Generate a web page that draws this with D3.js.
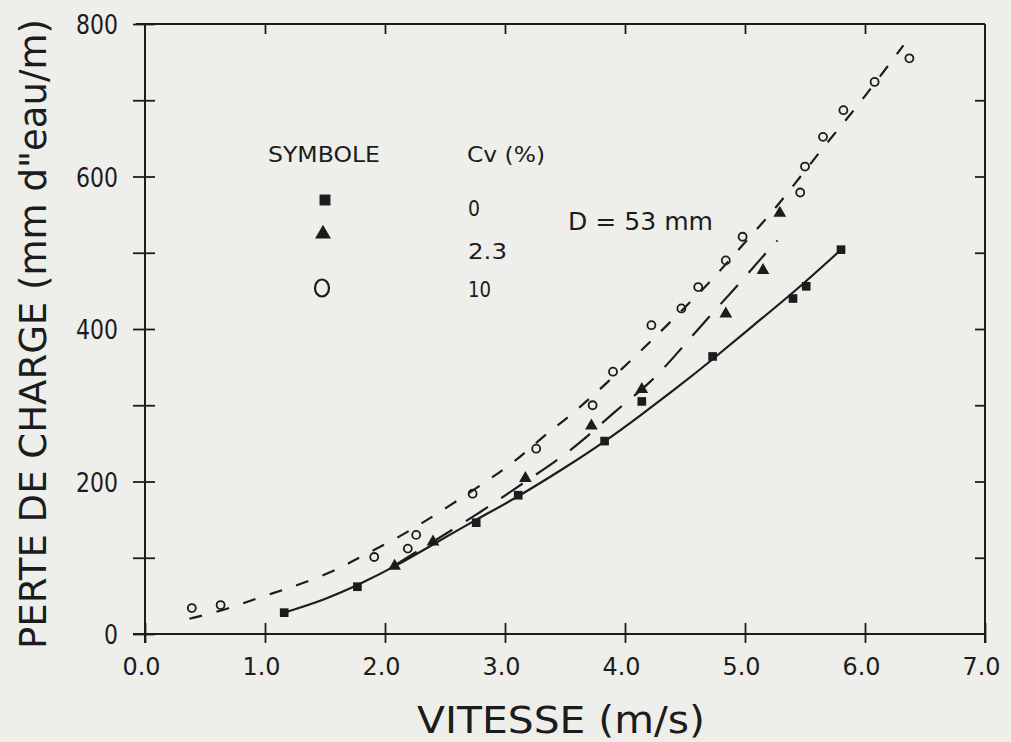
<!DOCTYPE html>
<html><head><meta charset="utf-8">
<script src="https://cdn.jsdelivr.net/npm/d3@7"></script>
<style>html,body{margin:0;padding:0;background:#eeeeeb;} svg{display:block;}</style>
</head><body><svg id="c" width="1011" height="742"></svg>
<script>
// ---- data ----
const xTickValues = [0, 1, 2, 3, 4, 5, 6, 7];
const xTickLabels = ["0.0", "1.0", "2.0", "3.0", "4.0", "5.0", "6.0", "7.0"];
const yTickValues = [0, 100, 200, 300, 400, 500, 600, 700, 800];
const yTickLabels = ["0", "", "200", "", "400", "", "600", "", "800"];

// measured points, Cv = 0 % (squares)
const cv0X = [1.16, 1.77, 2.76, 3.11, 3.83, 4.14, 4.73, 5.40, 5.51, 5.80];
const cv0Y = [28, 62, 146, 182, 253, 305, 364, 440, 456, 504];
// Cv = 2.3 % (triangles)
const cv23X = [2.08, 2.40, 3.17, 3.72, 4.14, 4.84, 5.15, 5.29];
const cv23Y = [89, 121, 204, 273, 321, 420, 477, 552];
// Cv = 10 % (open circles)
const cv10X = [0.39, 0.63, 1.91, 2.19, 2.26, 2.73, 3.26, 3.73, 3.90, 4.22, 4.47, 4.61, 4.84, 4.98, 5.46, 5.50, 5.65, 5.82, 6.08, 6.37];
const cv10Y = [34, 38, 101, 112, 130, 184, 243, 300, 344, 405, 427, 455, 490, 521, 579, 613, 652, 687, 724, 755];

// fitted curves
const curve0X = [1.16, 1.5, 1.8, 2.1, 2.45, 2.76, 3.11, 3.5, 3.83, 4.14, 4.45, 4.73, 5.07, 5.4, 5.8];
const curve0Y = [28, 45, 66, 90, 122, 150, 180, 218, 252, 288, 325, 360, 405, 447, 504];
const curve23X = [2.08, 2.4, 2.8, 3.18, 3.4, 3.64, 3.92, 4.22, 4.45, 4.7, 4.95, 5.18, 5.27];
const curve23Y = [90, 121, 160, 201, 224, 252, 293, 330, 371, 416, 459, 501, 516];
const curve10X = [0.37, 0.7, 0.93, 1.16, 1.39, 1.64, 1.81, 2.08, 2.53, 2.95, 3.15, 3.36, 3.55, 4.11, 4.51, 4.73, 4.95, 5.18, 5.35, 5.66, 5.82, 6.0, 6.32];
const curve10Y = [20, 33, 47, 58, 71, 87, 103, 123, 167, 211, 235, 265, 286, 367, 430, 465, 505, 545, 577, 640, 670, 705, 772];

const legendTitles = ["SYMBOLE", "Cv (%)"];
const legendLabels = ["0", "2.3", "10"];
const annotation = "D = 53 mm";
const xTitle = "VITESSE (m/s)";
const yTitle = "PERTE DE CHARGE (mm d\"eau/m)";

// ---- drawing ----
const ink = "#1c1c1c";
const font = "DejaVu Sans";
const svg = d3.select("#c");
const x = d3.scaleLinear().domain([0, 7]).range([145, 985]);
const y = d3.scaleLinear().domain([0, 800]).range([634, 24]);

function txt(g, s, px, py, size, len, anchor) {
  const t = g.append("text").attr("x", px).attr("y", py).text(s)
    .attr("font-family", font).attr("font-size", size).attr("fill", ink)
    .attr("text-anchor", anchor || "start");
  if (len) t.attr("textLength", len).attr("lengthAdjust", "spacingAndGlyphs");
  return t;
}

// frame
const frame = svg.append("g").attr("stroke", ink).attr("stroke-width", 2).attr("fill", "none");
frame.append("line").attr("x1", 136).attr("x2", x(7)).attr("y1", y(800)).attr("y2", y(800));
frame.append("line").attr("x1", x(0)).attr("x2", x(0)).attr("y1", y(800)).attr("y2", 643);
frame.append("line").attr("x1", 133).attr("x2", x(7)).attr("y1", y(0)).attr("y2", y(0));
frame.append("line").attr("x1", x(7)).attr("x2", x(7)).attr("y1", y(800)).attr("y2", 643);

// left axis (ticks crossing)
const gl = svg.append("g").attr("transform", `translate(${x(0)},0)`)
  .call(d3.axisLeft(y).tickValues(yTickValues).tickFormat((d, i) => yTickLabels[i]).tickSize(12));
gl.select(".domain").remove();
gl.selectAll(".tick line").attr("x1", 10).attr("x2", -12).attr("stroke", ink).attr("stroke-width", 1.8);
gl.selectAll(".tick text").attr("x", -27).attr("dy", "0.36em")
  .attr("font-family", font).attr("font-size", 27).attr("fill", ink)
  .each(function () { const s = d3.select(this).text(); if (s) d3.select(this).attr("textLength", 14 * s.length).attr("lengthAdjust", "spacingAndGlyphs"); });

// bottom axis
const gb = svg.append("g").attr("transform", `translate(0,${y(0)})`)
  .call(d3.axisBottom(x).tickValues(xTickValues).tickFormat((d, i) => xTickLabels[i]).tickSize(9));
gb.select(".domain").remove();
gb.selectAll(".tick line").attr("y1", -11).attr("y2", 9).attr("stroke", ink).attr("stroke-width", 1.8);
gb.selectAll(".tick text").attr("y", 41).attr("dy", 0).attr("x", -4)
  .attr("font-family", font).attr("font-size", 25).attr("fill", ink)
  .attr("textLength", 38).attr("lengthAdjust", "spacingAndGlyphs");

// top axis (ticks pointing down)
const gt = svg.append("g").attr("transform", `translate(0,${y(800)})`)
  .call(d3.axisTop(x).tickValues(xTickValues.slice(1, 7)).tickFormat("").tickSize(-10));
gt.select(".domain").remove();
gt.selectAll(".tick line").attr("stroke", ink).attr("stroke-width", 1.8);

// right axis (ticks pointing left)
const gr = svg.append("g").attr("transform", `translate(${x(7)},0)`)
  .call(d3.axisRight(y).tickValues(yTickValues.slice(1, 8)).tickFormat("").tickSize(-10));
gr.select(".domain").remove();
gr.selectAll(".tick line").attr("stroke", ink).attr("stroke-width", 1.8);

// curves
const line = d3.line().x(d => x(d[0])).y(d => y(d[1])).curve(d3.curveBasis);
const zip = (a, b) => a.map((v, i) => [v, b[i]]);
svg.append("path").datum(zip(curve0X, curve0Y)).attr("d", line)
  .attr("fill", "none").attr("stroke", ink).attr("stroke-width", 2.2);
svg.append("path").datum(zip(curve23X, curve23Y)).attr("d", line)
  .attr("fill", "none").attr("stroke", ink).attr("stroke-width", 2.2).attr("stroke-dasharray", "26,16");
svg.append("path").datum(zip(curve10X, curve10Y)).attr("d", line)
  .attr("fill", "none").attr("stroke", ink).attr("stroke-width", 2.2).attr("stroke-dasharray", "13,15");

// markers
const sq = d3.symbol().type(d3.symbolSquare).size(75);
const tri = d3.symbol().type(d3.symbolTriangle).size(70);
svg.append("g").selectAll("path").data(zip(cv0X, cv0Y)).join("path")
  .attr("d", sq).attr("transform", d => `translate(${x(d[0])},${y(d[1])})`).attr("fill", ink);
svg.append("g").selectAll("path").data(zip(cv23X, cv23Y)).join("path")
  .attr("d", tri).attr("transform", d => `translate(${x(d[0])},${y(d[1])})`).attr("fill", ink);
svg.append("g").selectAll("circle").data(zip(cv10X, cv10Y)).join("circle")
  .attr("cx", d => x(d[0])).attr("cy", d => y(d[1])).attr("r", 4)
  .attr("fill", "none").attr("stroke", ink).attr("stroke-width", 1.8);

// legend
const lg = svg.append("g");
txt(lg, legendTitles[0], 268, 162, 21, 112);
txt(lg, legendTitles[1], 467, 162, 21, 78);
lg.append("path").attr("d", d3.symbol().type(d3.symbolSquare).size(120)())
  .attr("transform", "translate(325,200)").attr("fill", ink);
lg.append("path").attr("d", d3.symbol().type(d3.symbolTriangle).size(110)())
  .attr("transform", "translate(323,234)").attr("fill", ink);
lg.append("ellipse").attr("cx", 322).attr("cy", 288).attr("rx", 7).attr("ry", 8.5)
  .attr("fill", "none").attr("stroke", ink).attr("stroke-width", 2.2);
txt(lg, legendLabels[0], 468, 216, 22, 12);
txt(lg, legendLabels[1], 468, 259, 22, 39);
txt(lg, legendLabels[2], 468, 297, 22, 23);
txt(lg, annotation, 568, 230, 24, 145);

// axis titles
txt(svg, xTitle, 417, 733, 37, 288);
txt(svg, yTitle, 0, 0, 38, 630, "middle").attr("transform", "translate(46,334) rotate(-90)");
</script>
</body></html>
